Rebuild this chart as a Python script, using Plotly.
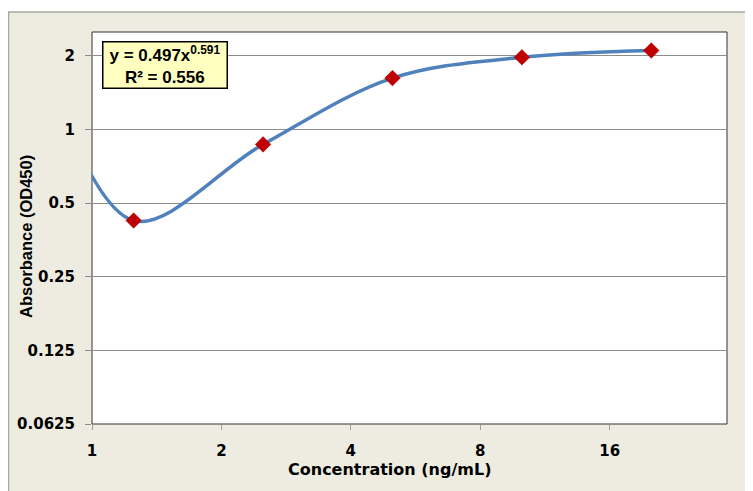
import plotly.graph_objects as go

# data
conc = [1.25, 2.5, 5, 10, 20]
absorb = [0.424, 0.868, 1.62, 1.97, 2.10]
# leading point of the smoothed series lying left of the visible axis range
lead_conc = [0.8]
lead_abs = [1.6]

x_ticks = [1, 2, 4, 8, 16]
x_ticktext = ["1", "2", "4", "8", "16"]
y_ticks = [0.0625, 0.125, 0.25, 0.5, 1, 2]
y_ticktext = ["0.0625", "0.125", "0.25", "0.5", "1", "2"]

# page body has an 8px margin, so the figure starts at (8, 8)
W, H = 745, 483
L, R, T, B = 84, 26, 24, 67
pw, ph = W - L - R, H - T - B

wide = "DejaVu Sans, sans-serif"
arial = "Liberation Sans, Arial, sans-serif"

fig = go.Figure()
fig.add_trace(go.Scatter(
    x=lead_conc + conc, y=lead_abs + absorb, mode="lines",
    line=dict(color="#4F81BD", width=3.5, shape="spline", smoothing=1.0),
    hoverinfo="skip", showlegend=False))
fig.add_trace(go.Scatter(
    x=conc, y=absorb, mode="markers",
    marker=dict(symbol="diamond", size=12, color="#C00000",
                line=dict(color="#A00000", width=0.5)),
    showlegend=False))

shapes = [
    dict(type="rect", xref="paper", yref="paper", layer="below",
         x0=(0.5 - L) / pw, x1=1 + (R + 20) / pw,
         y0=-(B + 20) / ph, y1=1 + (T - 4) / ph,
         fillcolor="#EEECE1", line=dict(color="#A6A6A6", width=1.5)),
    dict(type="rect", xref="paper", yref="paper", layer="below",
         x0=0, x1=1, y0=0, y1=1,
         fillcolor="white", line=dict(color="#303030", width=1)),
]

fig.update_layout(
    width=W, height=H,
    margin=dict(l=L, r=R, t=T, b=B, autoexpand=False),
    paper_bgcolor="white", plot_bgcolor="white",
    shapes=shapes,
    font=dict(family=arial, size=13, color="black"),
    xaxis=dict(type="log", range=[0, 1.4771], tickvals=x_ticks, ticktext=x_ticktext,
               automargin=False,
               showgrid=False, zeroline=False, showline=False,
               ticks="outside", ticklen=5, tickcolor="#A0A0A0",
               ticklabelstandoff=8,
               tickfont=dict(family=wide, size=15, color="black", weight="bold")),
    yaxis=dict(type="log", range=[-1.20412, 0.39794], tickvals=y_ticks, ticktext=y_ticktext,
               automargin=False,
               showgrid=True, gridcolor="#8C8C8C", gridwidth=1, zeroline=False, showline=False,
               ticks="outside", ticklen=6, tickcolor="#8C8C8C",
               ticklabelstandoff=7,
               tickfont=dict(family=wide, size=15, color="black", weight="bold")),
    annotations=[
        dict(xref="paper", yref="paper",
             x=(94 - L) / pw, y=1 - (33 - T) / ph, xanchor="left", yanchor="top",
             text="y = 0.497x<sup>0.591</sup><br>R² = 0.556", showarrow=False, align="center",
             width=121, height=43, valign="middle",
             font=dict(family=arial, size=17, color="black", weight="bold"),
             bgcolor="#FFFFC0", bordercolor="black", borderwidth=1.5, borderpad=1),
        dict(xref="paper", yref="paper",
             x=(381 - L) / pw, y=-(461 - 416) / ph,
             xanchor="center", yanchor="middle", showarrow=False,
             text="Concentration (ng/mL)",
             font=dict(family=wide, size=16, color="black", weight="bold")),
        dict(xref="paper", yref="paper",
             x=(18 - L) / pw, y=(416 - 229) / ph,
             xanchor="center", yanchor="middle", showarrow=False, textangle=-90,
             text="Absorbance (OD450)",
             font=dict(family=arial, size=16.5, color="black", weight="bold")),
    ],
)

fig.write_html("out.html")
